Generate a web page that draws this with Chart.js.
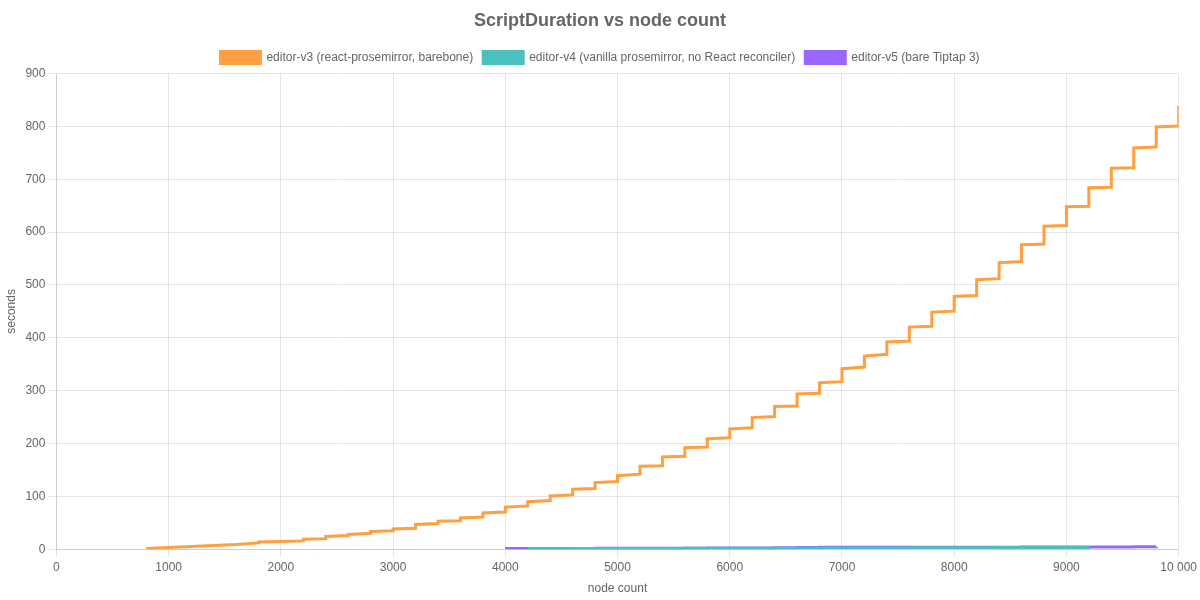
<!DOCTYPE html>
<html>
<head>
<meta charset="utf-8">
<script src="https://cdn.jsdelivr.net/npm/chart.js@4"></script>
<style>
  html, body { margin: 0; padding: 0; background: #fff; }
  #wrap { width: 1200px; height: 600px; }
</style>
</head>
<body>
<div id="wrap"><canvas id="c"></canvas></div>
<script>
const chartTitle = 'ScriptDuration vs node count';
const seriesLabels = [
  'editor-v3 (react-prosemirror, barebone)',
  'editor-v4 (vanilla prosemirror, no React reconciler)',
  'editor-v5 (bare Tiptap 3)'
];
const xTitle = 'node count';
const yTitle = 'seconds';

// editor-v3: segment starts (node count), value just after the step, value just before next step
const v3Nodes = [800,1000,1200,1400,1600,1800,2000,2200,2400,2600,2800,3000,3200,3400,3600,3800,4000,4200,4400,4600,4800,5000,5200,5400,5600,5800,6000,6200,6400,6600,6800,7000,7200,7400,7600,7800,8000,8200,8400,8600,8800,9000,9200,9400,9600,9800,10000];
const v3Start = [1.3,3.3,5.2,7.0,8.8,13.8,14.8,19,24,28,33.4,38.4,46.7,53,59,68.6,79.4,90,100.8,113.4,126,139,157,174.5,192,209,227.5,249,270,293.6,315,341.6,365.5,392,420.3,448.7,478.3,510,542,576,611,648,684,721,759.5,799,839];
const v3End   = [3.3,5.2,7.0,8.8,11.8,14.8,15.7,20,26,30,35,39.7,48.5,54,61,70.5,81.9,92,102.7,114.7,128,142,158,176,193.5,211,230,251,271,295,317,344.7,368.7,394,422,450.5,480,512,544.5,577.5,612.5,649,685,722,761,801];

// editor-v4
const v4Nodes = [4200,4400,4600,4800,5000,5200,5400,5600,5800,6000,6200,6400,6600,6800,7000,7200,7400,7600,7800,8000,8200,8400,8600,8800,9000,9200];
const v4Values = [0.9,1.0,1.1,1.2,1.3,1.4,1.5,1.6,1.7,1.8,1.9,2.0,2.1,2.2,2.3,2.4,2.5,2.6,2.7,2.8,2.9,3.0,3.1,3.2,3.3,3.4];

// editor-v5
const v5Nodes = [4000,4200,4400,4600,4800,5000,5200,5400,5600,5800,6000,6200,6400,6600,6800,7000,7200,7400,7600,7800,8000,8200,8400,8600,8800,9000,9200,9400,9600,9800];
const v5Values = [1.2,1.3,1.4,1.5,1.6,1.7,1.8,1.9,2.0,2.1,2.3,2.5,2.8,3.3,3.5,3.6,3.6,3.7,3.7,3.8,3.8,3.9,3.9,4.0,4.0,4.1,4.2,4.3,4.4,4.5];

const orange = 'rgb(255, 159, 64)';
const teal = 'rgb(75, 192, 192)';
const purple = 'rgb(153, 102, 255)';

function stepPoints(nodes, starts, ends) {
  const pts = [];
  for (let i = 0; i < nodes.length; i++) {
    pts.push({ x: nodes[i], y: starts[i] });
    if (i < ends.length && i + 1 < nodes.length) pts.push({ x: nodes[i + 1], y: ends[i] });
  }
  return pts;
}
function simplePoints(nodes, vals) {
  return nodes.map((n, i) => ({ x: n, y: vals[i] }));
}

Chart.defaults.font.family = '"Liberation Sans", Arial, Helvetica, sans-serif';
Chart.defaults.color = '#666';

new Chart(document.getElementById('c'), {
  type: 'line',
  data: {
    datasets: [
      { label: seriesLabels[0], data: stepPoints(v3Nodes, v3Start, v3End), borderColor: orange, backgroundColor: orange, borderWidth: 3, pointRadius: 0, tension: 0 },
      { label: seriesLabels[1], data: simplePoints(v4Nodes, v4Values), borderColor: teal, backgroundColor: teal, borderWidth: 3, pointRadius: 0, stepped: 'before' },
      { label: seriesLabels[2], data: simplePoints(v5Nodes, v5Values), borderColor: purple, backgroundColor: purple, borderWidth: 3, pointRadius: 0, stepped: 'before' }
    ]
  },
  options: {
    responsive: true,
    maintainAspectRatio: false,
    animation: false,
    plugins: {
      title: { display: true, text: chartTitle, font: { size: 18, weight: 'bold' }, color: '#666', padding: { top: 10, bottom: 10 } },
      legend: { labels: { boxWidth: 40, font: { size: 12 } } },
      tooltip: { enabled: false }
    },
    scales: {
      x: {
        type: 'linear', min: 0, max: 10000,
        ticks: { stepSize: 1000, callback: v => String(v).replace(/\B(?=(\d{3})+(?!\d))/g, v >= 10000 ? ' ' : '') },
        title: { display: true, text: xTitle }
      },
      y: {
        min: 0, max: 900,
        ticks: { stepSize: 100 },
        title: { display: true, text: yTitle }
      }
    }
  }
});
</script>
</body>
</html>
